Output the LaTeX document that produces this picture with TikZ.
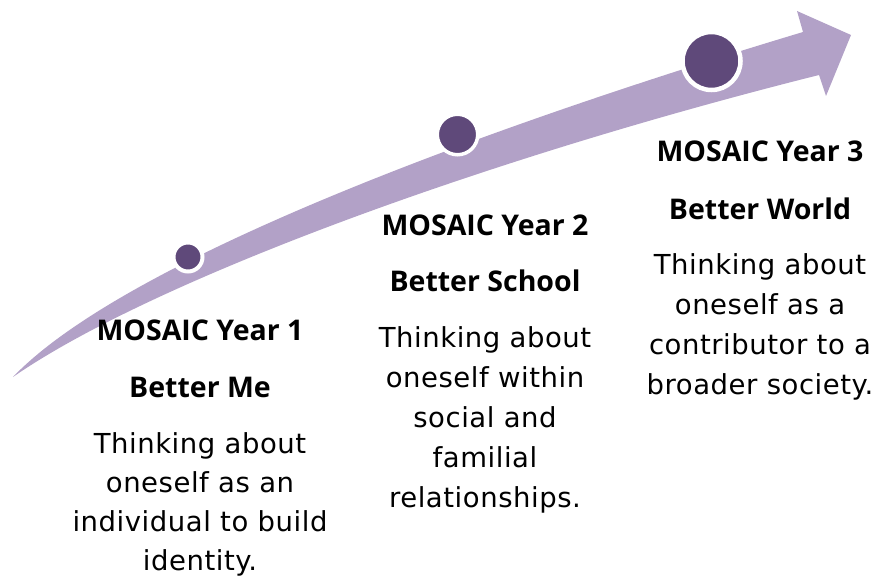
\documentclass[tikz,border=0pt]{standalone}
\usepackage{fontspec}
\newfontfamily\headfont{Open Sans}
\newfontfamily\bodyfont[LetterSpace=2]{DejaVu Sans}
\definecolor{lilac}{HTML}{B2A1C7}
\definecolor{plum}{HTML}{5F497A}
\begin{document}
\begin{tikzpicture}[x=1pt, y=-1pt,
    dot/.style={circle, fill=plum, draw=white, inner sep=0pt},
    head/.style={anchor=base, font=\headfont\bfseries\fontsize{28.5}{34}\selectfont},
    body/.style={anchor=base, font=\bodyfont\fontsize{27.5}{32}\selectfont}]
    \useasboundingbox (0, 0) rectangle (877, 580);
    \fill[lilac] (13, 377) .. controls (120, 265) and (460, 135) .. (803, 32)
      -- (797, 11) -- (851, 35) -- (826, 96) -- (819, 75)
      .. controls (480, 160) and (150, 282) .. (13, 377) -- cycle;

    \node[dot, minimum size=29pt, line width=4pt] (dot1) at (188, 257) {};
    \node[dot, minimum size=40.5pt, line width=3.5pt] (dot2) at (457.5, 134.5) {};
    \node[dot, minimum size=58pt, line width=4.5pt] (dot3) at (711.5, 61) {};

    \node[head] (title1) at (200, 340) {MOSAIC Year 1};
    \node[head] (better1) at (200, 397) {Better Me};
    \foreach \txt [count=\i from 0] in {Thinking about, oneself as an, individual to build, identity.}
      \node[body] (body1\i) at (200, 453 + 39*\i) {\txt};

    \node[head] (title2) at (485, 235) {MOSAIC Year 2};
    \node[head] (better2) at (485, 291.5) {Better School};
    \foreach \txt [count=\i from 0] in {Thinking about, oneself within, social and, familial, relationships.}
      \node[body] (body2\i) at (485, 347 + 40*\i) {\txt};

    \node[head] (title3) at (760, 162) {MOSAIC Year 3};
    \node[head] (better3) at (760, 219) {Better World};
    \foreach \txt [count=\i from 0] in {Thinking about, oneself as a, contributor to a, broader society.}
      \node[body] (body3\i) at (760, 274 + 40*\i) {\txt};
\end{tikzpicture}
\end{document}
